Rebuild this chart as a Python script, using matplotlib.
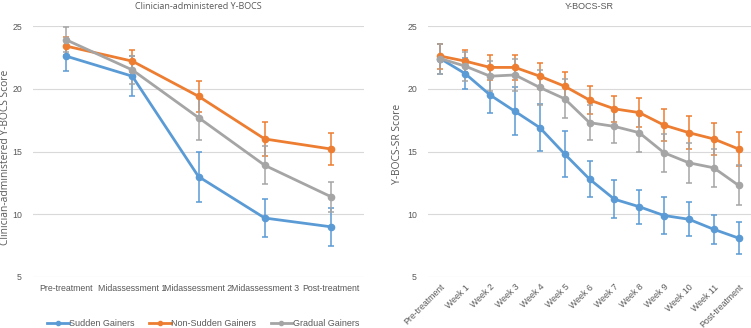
import matplotlib
matplotlib.use("Agg")
import matplotlib.pyplot as plt
from matplotlib.lines import Line2D

# Clinician-administered Y-BOCS (means and error bars)
cli_labels = ["Pre-treatment", "Midassessment 1", "Midassessment 2", "Midassessment 3", "Post-treatment"]
cli_sudden = [22.6, 21.0, 13.0, 9.7, 9.0]
cli_sudden_err = [1.2, 1.6, 2.0, 1.5, 1.5]
cli_nonsudden = [23.4, 22.2, 19.4, 16.0, 15.2]
cli_nonsudden_err = [0.7, 0.85, 1.25, 1.35, 1.25]
cli_gradual = [23.9, 21.5, 17.7, 13.9, 11.4]
cli_gradual_err = [1.0, 1.1, 1.8, 1.5, 1.2]

# Y-BOCS-SR weekly self-report (means and error bars)
sr_labels = ["Pre-treatment", "Week 1", "Week 2", "Week 3", "Week 4", "Week 5", "Week 6",
             "Week 7", "Week 8", "Week 9", "Week 10", "Week 11", "Post-treatment"]
sr_sudden = [22.4, 21.2, 19.5, 18.2, 16.9, 14.8, 12.8, 11.2, 10.6, 9.9, 9.6, 8.8, 8.1]
sr_sudden_err = [1.2, 1.25, 1.45, 1.9, 1.85, 1.8, 1.45, 1.5, 1.35, 1.45, 1.35, 1.15, 1.3]
sr_nonsudden = [22.6, 22.2, 21.7, 21.7, 21.0, 20.2, 19.1, 18.4, 18.1, 17.1, 16.5, 16.0, 15.2]
sr_nonsudden_err = [1.0, 0.9, 1.0, 1.0, 1.05, 1.1, 1.15, 1.05, 1.15, 1.3, 1.3, 1.3, 1.35]
sr_gradual = [22.4, 21.8, 21.0, 21.1, 20.1, 19.2, 17.3, 17.0, 16.5, 14.9, 14.1, 13.7, 12.3]
sr_gradual_err = [1.2, 1.15, 1.2, 1.3, 1.4, 1.55, 1.4, 1.3, 1.55, 1.5, 1.6, 1.5, 1.6]

series_names = ["Sudden Gainers", "Non-Sudden Gainers", "Gradual Gainers"]
colors = ["#5B9BD5", "#ED7D31", "#A5A5A5"]
text_color = "#595959"
grid_color = "#D9D9D9"
tick_font = "Liberation Sans"
title_font = "Open Sans"

fig = plt.figure(figsize=(7.51, 3.28), dpi=100)
ax1 = fig.add_axes([33 / 751, 51 / 328, 331 / 751, 251 / 328])
ax2 = fig.add_axes([428 / 751, 51 / 328, 323 / 751, 251 / 328])


def draw_panel(ax, labels, data, title, ylabel, rotate, title_family, label_xy):
    x = list(range(len(labels)))
    for (vals, errs), c in zip(data, colors):
        ax.errorbar(x, vals, yerr=errs, color=c, lw=2.0, marker="o", ms=4.5,
                    elinewidth=1.1, capsize=2.5, capthick=1.1, zorder=3)
    ax.set_xlim(-0.5, len(labels) - 0.5)
    ax.set_ylim(5, 25)
    ax.set_yticks([5, 10, 15, 20, 25])
    ax.yaxis.grid(True, color=grid_color, lw=0.8)
    ax.set_axisbelow(True)
    for s in ax.spines.values():
        s.set_visible(False)
    ax.tick_params(length=0, colors=text_color, labelsize=6.3)
    ax.set_xticks(x)
    if rotate:
        ax.set_xticklabels(labels, rotation=45, ha="right", rotation_mode="anchor",
                           fontsize=6.3, family=tick_font, color=text_color)
        ax.tick_params(axis="x", pad=4)
    else:
        ax.set_xticklabels(labels, fontsize=6.3, family=tick_font, color=text_color)
        ax.tick_params(axis="x", pad=5)
    for t in ax.get_yticklabels():
        t.set_family(tick_font)
    ax.tick_params(axis="y", pad=8)
    ax.set_title(title, fontsize=6.5, family=title_family, color=text_color, pad=12)
    ax.set_ylabel(ylabel, fontsize=7.4, family=title_font, color=text_color)
    ax.yaxis.set_label_coords(*label_xy)


draw_panel(ax1, cli_labels,
           [(cli_sudden, cli_sudden_err), (cli_nonsudden, cli_nonsudden_err), (cli_gradual, cli_gradual_err)],
           "Clinician-administered Y-BOCS", "Clinician-administered Y-BOCS Score", False, title_font,
           (-0.066, 0.475))
draw_panel(ax2, sr_labels,
           [(sr_sudden, sr_sudden_err), (sr_nonsudden, sr_nonsudden_err), (sr_gradual, sr_gradual_err)],
           "Y-BOCS-SR", "Y-BOCS-SR Score", True, tick_font,
           (-0.077, 0.53))

handles = [Line2D([0], [0], color=c, lw=2.0, marker="o", ms=3) for c in colors]
fig.legend(handles, series_names, loc="center", bbox_to_anchor=(203 / 751, 4 / 328),
           ncol=3, frameon=False, handlelength=2.4, handletextpad=0.05,
           columnspacing=1.6, prop={"family": tick_font, "size": 6.5}, labelcolor=text_color)

fig.savefig("out.png", dpi=100)
